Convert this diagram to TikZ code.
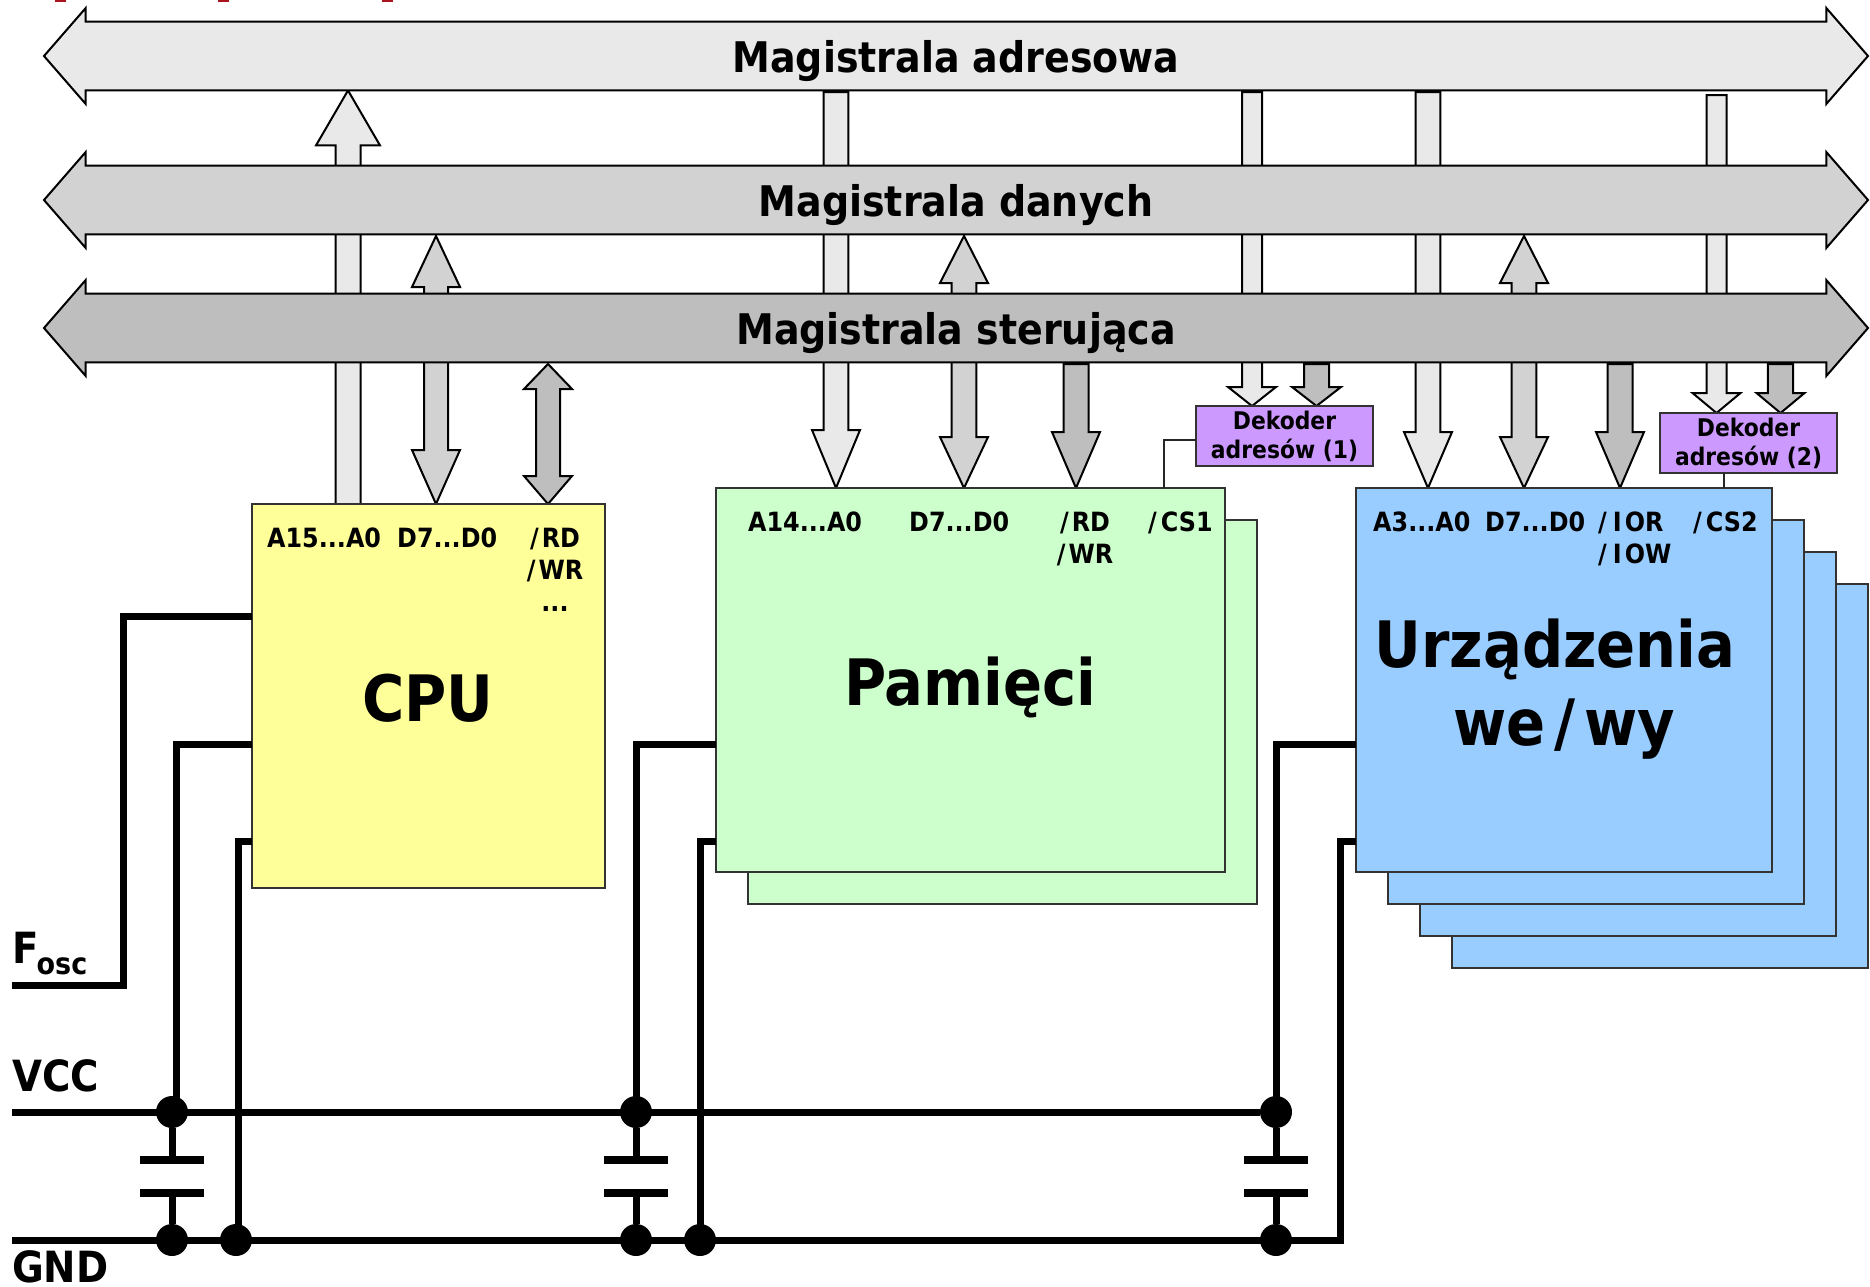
\documentclass[tikz,border=0pt]{standalone}
\usepackage{fontspec}
\setmainfont{DejaVu Sans Condensed}
\usetikzlibrary{shapes.arrows,calc,backgrounds}
\definecolor{AddrGray}{RGB}{233, 233, 233}
\definecolor{DataGray}{RGB}{210, 210, 210}
\definecolor{CtrlGray}{RGB}{190, 190, 190}
\definecolor{CpuYellow}{RGB}{255, 255, 153}
\definecolor{MemGreen}{RGB}{204, 255, 204}
\definecolor{DevBlue}{RGB}{153, 204, 255}
\definecolor{DecViolet}{RGB}{204, 153, 255}
\definecolor{ClipRed}{RGB}{170, 20, 30}
\tikzset{
  bus/.style={shape=double arrow, draw=black, line width=2pt, inner xsep=0pt, inner ysep=4pt, outer sep=0pt,
    minimum height=1824pt, minimum width=96pt, double arrow head extend=8.3pt, text depth=0pt,
    double arrow tip angle=98, font=\fontsize{42.2}{50}\selectfont\bfseries},
  block/.style={draw=black!80, line width=2pt, anchor=north west, inner sep=0pt, outer sep=0pt},
  decoder/.style={block, fill=DecViolet, minimum width=177pt, minimum height=60pt,
    align=center, font=\fontsize{24.3}{29}\selectfont\bfseries},
  pin/.style={anchor=base west, inner sep=0pt, font=\fontsize{26.5}{32}\selectfont\bfseries},
  title/.style={anchor=base, inner sep=0pt, font=\fontsize{64}{70}\selectfont\bfseries},
  rail/.style={anchor=base west, inner sep=0pt, font=\fontsize{43}{50}\selectfont\bfseries},
  wire/.style={line width=7pt},
  thinwire/.style={line width=1.5pt, black!85},
  plate/.style={line width=8pt},
  dot/.style={circle, fill=black, inner sep=0pt, minimum size=32pt},
  harrow/.style={draw=black, line width=2pt},
  % one head, at the target
  oneway/.style n args={3}{harrow, to path={
    let \p1=(\tikztostart), \p2=(\tikztotarget), \n1={ifthenelse(\y1>\y2,1,-1)} in
    (\x1-#1,\y1) -- (\x1-#1,\y2+\n1*#3) -- (\x1-#2,\y2+\n1*#3) -- (\x1,\y2)
    -- (\x1+#2,\y2+\n1*#3) -- (\x1+#1,\y2+\n1*#3) -- (\x1+#1,\y1) -- cycle}},
  % two heads
  twoway/.style n args={4}{harrow, to path={
    let \p1=(\tikztostart), \p2=(\tikztotarget) in
    (\x1,\y1) -- (\x1+#2,\y1-#3) -- (\x1+#1,\y1-#3) -- (\x1+#1,\y2+#4) -- (\x1+#2,\y2+#4)
    -- (\x1,\y2) -- (\x1-#2,\y2+#4) -- (\x1-#1,\y2+#4) -- (\x1-#1,\y1-#3) -- (\x1-#2,\y1-#3) -- cycle}}
}
\newcommand{\busarrow}[3]{%
  \coordinate (arrowa) at #2;
  \coordinate (arrowb) at #3;
  \draw[#1] (arrowa) to (arrowb);
}
\begin{document}
\begin{tikzpicture}[x=1pt,y=-1pt]
  \useasboundingbox (0,0) rectangle (1870,1286);

  % clipped marks at the top edge
  \foreach \x in {55,218,382} {
    \fill[ClipRed] (\x,0) rectangle (\x+11,2);
  }

  % Buses
  \node[bus, fill=AddrGray] (addrbus) at (956,56) {Magistrala adresowa};
  \node[bus, fill=DataGray] (databus) at (956,200) {Magistrala danych};
  \node[bus, fill=CtrlGray] (ctrlbus) at (956,328) {Magistrala sterująca};

  % CPU
  \node[block, fill=CpuYellow, minimum width=353pt, minimum height=384pt] (cpu) at (252,504) {};
  \node[title] (cputxt) at (428,721) {CPU};
  \node[pin] (cpua) at (267,547) {A15...A0};
  \node[pin] (cpud) at (397,547) {D7...D0};
  \node[pin, anchor=base] (cpurd) at (555,547) {/\kern3pt RD};
  \node[pin, anchor=base] (cpuwr) at (555,579) {/\kern3pt WR};
  \node[pin, anchor=base] (cpuetc) at (555,611) {...};

  % Memories
  \node[block, fill=MemGreen, minimum width=509pt, minimum height=384pt] (memback) at (748,520) {};
  \node[block, fill=MemGreen, minimum width=509pt, minimum height=384pt] (mem) at (716,488) {};
  \node[title] (memtxt) at (970,705) {Pamięci};
  \node[pin] (mema) at (748,531) {A14...A0};
  \node[pin] (memd) at (909,531) {D7...D0};
  \node[pin, anchor=base] (memrd) at (1085,531) {/\kern3pt RD};
  \node[pin, anchor=base] (memwr) at (1085,563) {/\kern3pt WR};
  \node[pin] (memcs) at (1148,531) {/\kern4pt CS1};

  % I/O devices
  \foreach \n/\x/\y in {3/1452/584, 2/1420/552, 1/1388/520} {
    \node[block, fill=DevBlue, minimum width=416pt, minimum height=384pt] (devback\n) at (\x,\y) {};
  }
  \node[block, fill=DevBlue, minimum width=416pt, minimum height=384pt] (dev) at (1356,488) {};
  \node[title] (devtxt) at (1555,667) {Urządzenia};
  \node[title] (devtxtb) at (1564,745) {we\kern9pt/\kern9pt wy};
  \node[pin] (deva) at (1373,531) {A3...A0};
  \node[pin] (devd) at (1485,531) {D7...D0};
  \node[pin] (devrd) at (1598,531) {/\kern6pt I\kern3pt OR};
  \node[pin] (devwr) at (1598,563) {/\kern6pt I\kern3pt OW};
  \node[pin] (devcs) at (1693,531) {/\kern4pt CS2};

  % Decoders
  \node[decoder] (dec1) at (1196,406) {Dekoder\\adresów (1)};
  \node[decoder] (dec2) at (1660,413) {Dekoder\\adresów (2)};
  \draw[thinwire] (dec1.west |- 0,440) -- (1164,440) -- (1164,488);
  \draw[thinwire] (dec2.south -| 1724,0) -- (1724,488);

  % Block arrows behind the buses
  \begin{scope}[on background layer]
    \foreach \x/\blk/\hd in {836/mem/58, 1428/dev/56} {
      \busarrow{oneway={12.3pt}{24pt}{\hd pt}, fill=AddrGray}{(\x,92)}{(\blk.north -| \x,0)}
    }
    \busarrow{oneway={12.5pt}{32pt}{55pt}, fill=AddrGray}{(cpu.north -| 348,0)}{(addrbus.south -| 348,0)}
    \busarrow{oneway={10pt}{24pt}{19pt}, fill=AddrGray}{(1252,92)}{(dec1.north -| 1252,0)}
    \busarrow{oneway={10pt}{24pt}{20pt}, fill=AddrGray}{(1716.5,95)}{(dec2.north -| 1716.5,0)}

    \busarrow{twoway={12pt}{24pt}{51pt}{54pt}, fill=DataGray}{(436,236)}{(cpu.north -| 436,0)}
    \foreach \x/\blk in {964/mem, 1524/dev} {
      \busarrow{twoway={12.3pt}{24pt}{47pt}{51pt}, fill=DataGray}{(\x,236)}{(\blk.north -| \x,0)}
    }

    \busarrow{twoway={12pt}{24pt}{25pt}{28pt}, fill=CtrlGray}{(548,364)}{(cpu.north -| 548,0)}
    \foreach \x/\blk in {1076/mem, 1620/dev} {
      \busarrow{oneway={12.5pt}{24pt}{56pt}, fill=CtrlGray}{(\x,364)}{(\blk.north -| \x,0)}
    }
    \busarrow{oneway={12.5pt}{24.5pt}{19pt}, fill=CtrlGray}{(1316.5,364)}{(dec1.north -| 1316.5,0)}
    \busarrow{oneway={12.6pt}{24pt}{20pt}, fill=CtrlGray}{(1780.5,364)}{(dec2.north -| 1780.5,0)}
  \end{scope}

  % Supply rails
  \coordinate (fosc) at (12,985);
  \coordinate (vcc) at (12,1112);
  \coordinate (gnd) at (12,1240);
  \node[rail] (fosctxt) at (12,963) {F\kern-2pt\raisebox{-11pt}{\fontsize{30}{30}\selectfont\bfseries osc}};
  \node[rail] (vcctxt) at (12,1091) {VCC};
  \node[rail] (gndtxt) at (12,1282) {GND};
  \draw[wire] (fosc) -- (123.5,985) |- (cpu.west |- 0,616);

  \foreach \blk/\vx/\gx/\cx in {cpu/176/238/172, mem/636/700/636, dev/1276/1340/1276} {
    \node[dot] (v\blk) at (\cx,1112) {};
    \node[dot] (c\blk) at (\cx,1240) {};
    \draw[wire] (\vx,1112) |- (\blk.west |- 0,744);
    \draw[wire] (\gx,1240) |- (\blk.west |- 0,841);
    % capacitor
    \draw[wire] (v\blk) -- (\cx,1160);
    \draw[wire] (c\blk) -- (\cx,1193);
    \draw[plate] (\cx-32,1160) -- (\cx+32,1160);
    \draw[plate] (\cx-32,1193) -- (\cx+32,1193);
  }
  \node[dot] (gcpu) at (236,1240) {};
  \node[dot] (gmem) at (700,1240) {};
  \draw[wire] (vcc) -- (vdev);
  \draw[wire] (gnd) -- (1343.5,1240);
\end{tikzpicture}
\end{document}
